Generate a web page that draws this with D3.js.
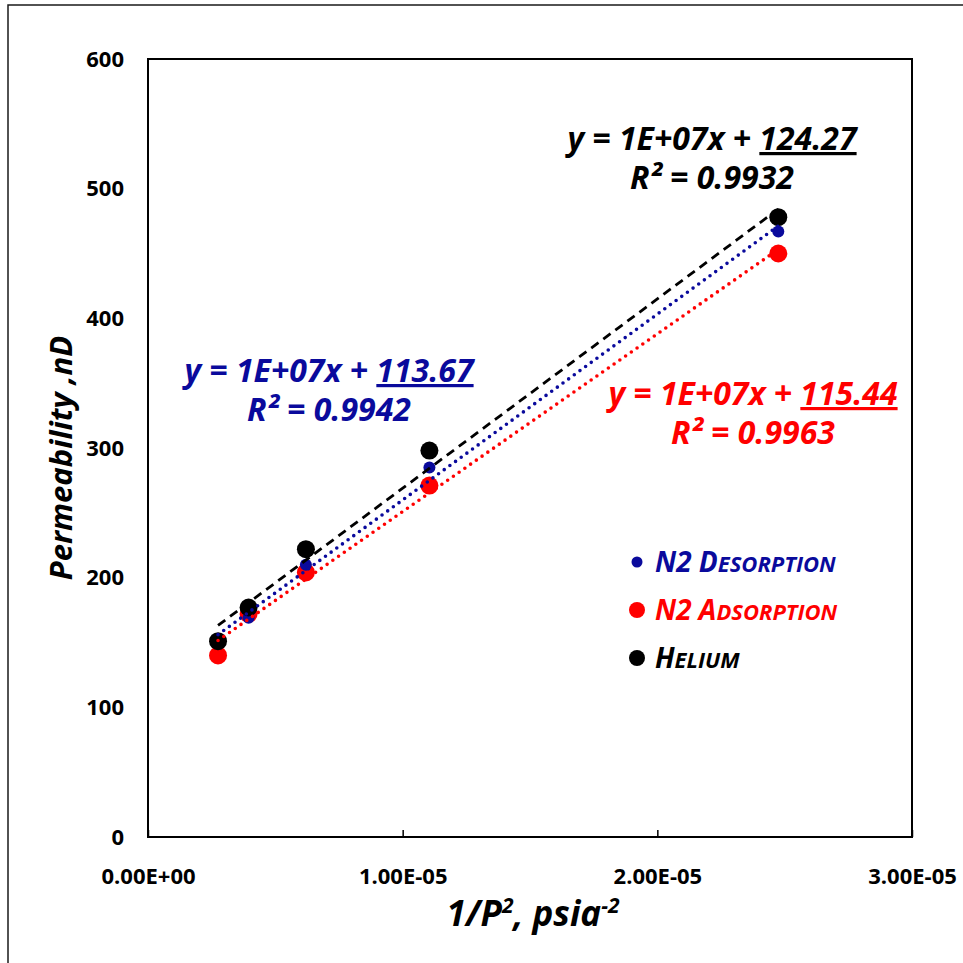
<!DOCTYPE html>
<html>
<head>
<meta charset="utf-8">
<script src="https://cdn.jsdelivr.net/npm/d3@7"></script>
<style>
  body { margin: 0; background: #fff; }
  text { font-family: "Open Sans", Lato, sans-serif; font-weight: bold; }
</style>
</head>
<body>
<script>
// Permeability vs 1/P^2 (Klinkenberg plot)
var pressureX = [2.75e-6, 3.95e-6, 6.2e-6, 1.105e-5, 2.475e-5];
var helium = [151, 177, 222, 298, 478];
var n2Desorption = [150, 169, 210, 285, 467];
var n2Adsorption = [140, 172, 204, 271, 450];
var xTicks = [0, 1e-5, 2e-5, 3e-5];
var yTicks = [0, 100, 200, 300, 400, 500, 600];

var series = [
    { name: "N2 Adsorption", big: ["N2 ", "A"], small: "DSORPTION", values: n2Adsorption, color: "#ff0000", r: 9, dash: "0,7",
      eq: "y = 1E+07x + ", icpt: "115.44", r2: "R² = 0.9963", eqX: 753, eqY: 405 },
    { name: "N2 Desorption", big: ["N2 ", "D"], small: "ESORPTION", values: n2Desorption, color: "#0a0a9c", r: 6, dash: "0,7",
      eq: "y = 1E+07x + ", icpt: "113.67", r2: "R² = 0.9942", eqX: 329, eqY: 382 },
    { name: "Helium", big: ["", "H"], small: "ELIUM", values: helium, color: "#000000", r: 9, dash: "9,6",
      eq: "y = 1E+07x + ", icpt: "124.27", r2: "R² = 0.9932", eqX: 712, eqY: 150 }
];
var legendOrder = [1, 0, 2];

var W = 963, H = 963;
var margin = { top: 59, right: 51, bottom: 126, left: 148 };
var width = W - margin.left - margin.right,
    height = H - margin.top - margin.bottom;

var svg = d3.select("body").append("svg")
    .attr("width", W)
    .attr("height", H);

// outer chart frame
svg.append("rect")
    .attr("x", 8).attr("y", 5)
    .attr("width", W).attr("height", H)
    .attr("fill", "#fff")
    .attr("stroke", "#1a1a1a")
    .attr("stroke-width", 1.5);

var g = svg.append("g")
    .attr("transform", "translate(" + margin.left + "," + margin.top + ")");

var x = d3.scaleLinear().domain([0, 3e-5]).range([0, width]);
var y = d3.scaleLinear().domain([0, 600]).range([height, 0]);

// Axes
var xAxis = g.append("g")
    .attr("transform", "translate(0," + height + ")")
    .call(d3.axisBottom(x).tickValues(xTicks).tickSizeInner(-7).tickSizeOuter(0).tickPadding(31)
        .tickFormat(function (d) { return d.toExponential(2).replace("e", "E").replace(/E([+-])(\d)$/, "E$10$2"); }));
xAxis.select(".domain").remove();
xAxis.selectAll("line").attr("stroke", "#000").attr("stroke-width", 1.5);
xAxis.selectAll("text").attr("fill", "#000").style("font-size", "22px");

var yAxis = g.append("g")
    .call(d3.axisLeft(y).tickValues(yTicks).tickSize(0).tickPadding(24));
yAxis.select(".domain").remove();
yAxis.selectAll("text").attr("fill", "#000").style("font-size", "22px");

// plot area border
g.append("rect")
    .attr("width", width).attr("height", height)
    .attr("fill", "none")
    .attr("stroke", "#000")
    .attr("stroke-width", 2);

// Markers
series.forEach(function (s) {
    g.selectAll(null)
        .data(s.values)
        .enter()
        .append("circle")
        .attr("cx", function (d, i) { return x(pressureX[i]); })
        .attr("cy", function (d) { return y(d); })
        .attr("r", s.r)
        .attr("fill", s.color);
});

// Linear trendlines (least squares)
series.forEach(function (s) {
    var mx = d3.mean(pressureX),
        my = d3.mean(s.values);
    var sxy = d3.sum(pressureX, function (xv, i) { return (xv - mx) * (s.values[i] - my); });
    var sxx = d3.sum(pressureX, function (xv) { return (xv - mx) * (xv - mx); });
    var slope = sxy / sxx, icpt = my - slope * mx;
    var ends = d3.extent(pressureX);
    g.append("line")
        .attr("x1", x(ends[0])).attr("y1", y(icpt + slope * ends[0]))
        .attr("x2", x(ends[1])).attr("y2", y(icpt + slope * ends[1]))
        .attr("stroke", s.color)
        .attr("stroke-width", s.color === "#000000" ? 2.8 : 3.6)
        .attr("stroke-linecap", s.dash === "0,7" ? "round" : "butt")
        .attr("stroke-dasharray", s.dash);
});

// Equation labels
series.forEach(function (s) {
    var t = svg.append("text")
        .attr("x", s.eqX).attr("y", s.eqY)
        .attr("text-anchor", "middle")
        .style("font-size", "32px")
        .style("font-style", "italic")
        .attr("fill", s.color);
    t.append("tspan").text(s.eq);
    t.append("tspan").text(s.icpt).attr("text-decoration", "underline");
    svg.append("text")
        .attr("x", s.eqX).attr("y", s.eqY + 39)
        .attr("text-anchor", "middle")
        .style("font-size", "32px")
        .style("font-style", "italic")
        .attr("fill", s.color)
        .text(s.r2);
});

// Legend
legendOrder.forEach(function (k, i) {
    var s = series[k];
    var ly = 562 + i * 48;
    svg.append("circle")
        .attr("cx", 637).attr("cy", ly)
        .attr("r", s.r === 6 ? 5.5 : 8)
        .attr("fill", s.color);
    var t = svg.append("text")
        .attr("x", 655).attr("y", ly + 10)
        .style("font-style", "italic")
        .attr("fill", s.color);
    t.append("tspan").text(s.big[0] + s.big[1]).style("font-size", "28px");
    t.append("tspan").text(s.small).style("font-size", "22px");
});

// Axis titles
svg.append("text")
    .attr("transform", "translate(72,458) rotate(-90)")
    .attr("text-anchor", "middle")
    .style("font-size", "31px")
    .style("font-style", "italic")
    .text("Permeability ,nD");

var xt = svg.append("text")
    .attr("x", 533).attr("y", 926)
    .attr("text-anchor", "middle")
    .style("font-size", "35px")
    .style("font-style", "italic");
xt.append("tspan").text("1/P");
xt.append("tspan").text("2").attr("dy", -13).style("font-size", "21px");
xt.append("tspan").text(", psia").attr("dy", 13);
xt.append("tspan").text("-2").attr("dy", -13).style("font-size", "21px");
</script>
</body>
</html>
